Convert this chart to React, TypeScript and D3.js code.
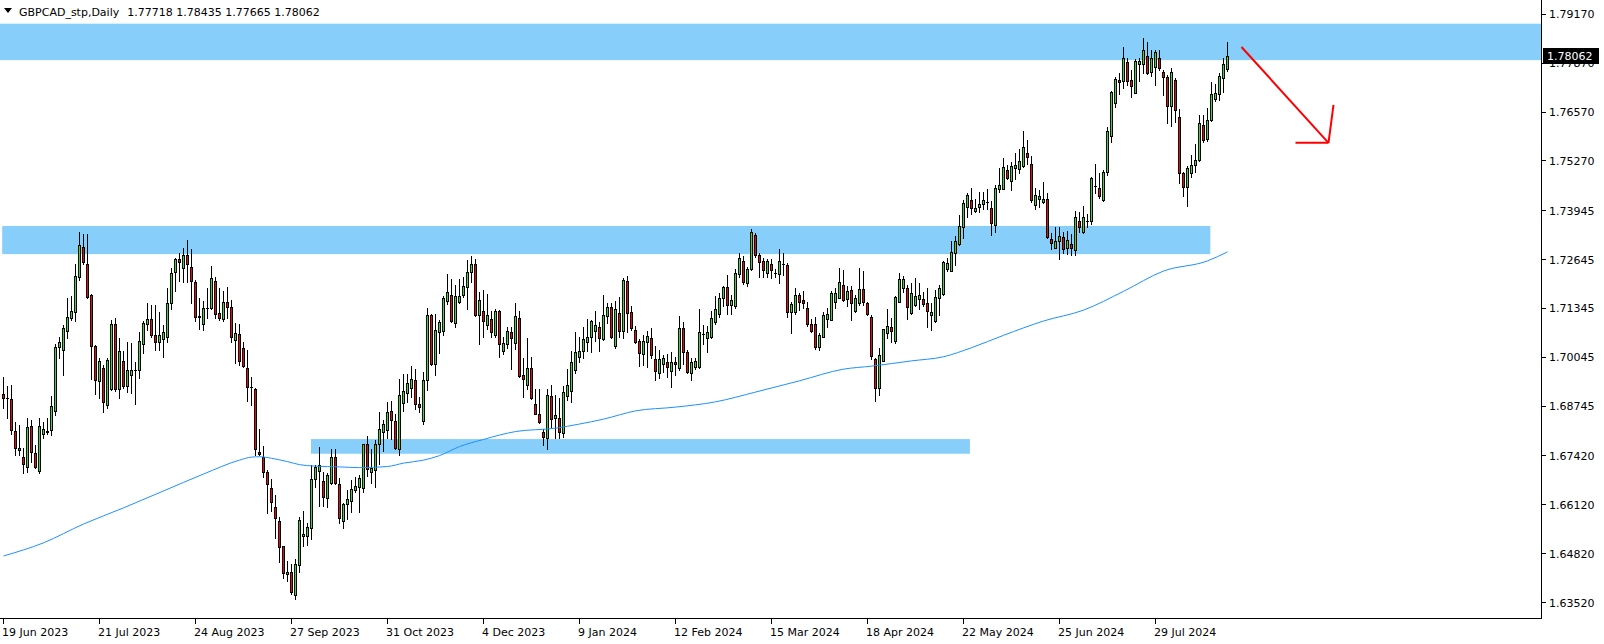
import React from "react";
import * as d3 from "d3";

// Daily GBPCAD candles, [open, high, low, close], one per trading day from 19 Jun 2023
const ohlc: [number, number, number, number][] = [
  [1.6906, 1.6953, 1.6870, 1.6895], [1.6895, 1.6929, 1.6844, 1.6895], [1.6894, 1.6931, 1.6800, 1.6810], [1.6808, 1.6833, 1.6745, 1.6764],
  [1.6757, 1.6824, 1.6745, 1.6762], [1.6738, 1.6762, 1.6698, 1.6721], [1.6714, 1.6842, 1.6700, 1.6819], [1.6821, 1.6838, 1.6727, 1.6753],
  [1.6749, 1.6771, 1.6709, 1.6714], [1.6703, 1.6842, 1.6696, 1.6821], [1.6800, 1.6833, 1.6791, 1.6815], [1.6805, 1.6842, 1.6800, 1.6808],
  [1.6810, 1.6901, 1.6798, 1.6874], [1.6862, 1.7039, 1.6851, 1.7031], [1.7031, 1.7059, 1.7004, 1.7044], [1.7023, 1.7090, 1.6957, 1.7082],
  [1.7075, 1.7163, 1.7057, 1.7111], [1.7110, 1.7167, 1.7104, 1.7128], [1.7124, 1.7252, 1.7101, 1.7220], [1.7217, 1.7339, 1.7210, 1.7302],
  [1.7298, 1.7332, 1.7252, 1.7257], [1.7253, 1.7332, 1.7161, 1.7166], [1.7170, 1.7172, 1.6948, 1.7034], [1.7034, 1.7037, 1.6906, 1.6945],
  [1.6941, 1.7004, 1.6897, 1.6996], [1.6975, 1.6984, 1.6860, 1.6886], [1.6877, 1.7002, 1.6870, 1.6997], [1.6921, 1.7104, 1.6917, 1.7092],
  [1.7092, 1.7110, 1.6916, 1.6920], [1.6921, 1.7055, 1.6897, 1.7020], [1.6995, 1.7021, 1.6922, 1.6929], [1.6929, 1.7046, 1.6911, 1.6971],
  [1.6957, 1.7042, 1.6909, 1.6971], [1.6971, 1.6993, 1.6879, 1.6971], [1.6970, 1.7073, 1.6950, 1.7048], [1.7039, 1.7101, 1.7015, 1.7095],
  [1.7092, 1.7148, 1.7077, 1.7106], [1.7106, 1.7144, 1.7059, 1.7064], [1.7064, 1.7144, 1.7024, 1.7046], [1.7046, 1.7124, 1.7024, 1.7064],
  [1.7053, 1.7090, 1.7006, 1.7071], [1.7058, 1.7188, 1.7046, 1.7148], [1.7148, 1.7241, 1.7133, 1.7228], [1.7231, 1.7268, 1.7181, 1.7266],
  [1.7266, 1.7281, 1.7207, 1.7257], [1.7241, 1.7296, 1.7206, 1.7278], [1.7277, 1.7317, 1.7204, 1.7254], [1.7244, 1.7293, 1.7148, 1.7208],
  [1.7204, 1.7210, 1.7101, 1.7113], [1.7114, 1.7161, 1.7080, 1.7111], [1.7093, 1.7154, 1.7077, 1.7137], [1.7135, 1.7188, 1.7110, 1.7137],
  [1.7135, 1.7248, 1.7133, 1.7215], [1.7207, 1.7218, 1.7108, 1.7121], [1.7122, 1.7190, 1.7105, 1.7108], [1.7106, 1.7181, 1.7101, 1.7152],
  [1.7152, 1.7192, 1.7108, 1.7139], [1.7139, 1.7157, 1.7044, 1.7058], [1.7050, 1.7095, 1.6990, 1.7068], [1.7066, 1.7092, 1.6984, 1.6996],
  [1.7030, 1.7046, 1.6978, 1.6982], [1.6975, 1.7024, 1.6887, 1.6926], [1.6925, 1.6951, 1.6878, 1.6925], [1.6919, 1.6922, 1.6745, 1.6761],
  [1.6753, 1.6813, 1.6745, 1.6747], [1.6738, 1.6769, 1.6687, 1.6700], [1.6700, 1.6705, 1.6591, 1.6667], [1.6658, 1.6680, 1.6596, 1.6619],
  [1.6605, 1.6637, 1.6524, 1.6578], [1.6569, 1.6580, 1.6461, 1.6501], [1.6502, 1.6503, 1.6418, 1.6431], [1.6428, 1.6463, 1.6410, 1.6434],
  [1.6434, 1.6456, 1.6375, 1.6380], [1.6373, 1.6467, 1.6361, 1.6454], [1.6453, 1.6579, 1.6434, 1.6573], [1.6530, 1.6596, 1.6503, 1.6534],
  [1.6530, 1.6563, 1.6505, 1.6554], [1.6551, 1.6718, 1.6520, 1.6680], [1.6680, 1.6718, 1.6660, 1.6712], [1.6701, 1.6767, 1.6609, 1.6717],
  [1.6676, 1.6700, 1.6609, 1.6632], [1.6629, 1.6698, 1.6605, 1.6691], [1.6671, 1.6760, 1.6667, 1.6738], [1.6738, 1.6760, 1.6667, 1.6669],
  [1.6667, 1.6683, 1.6565, 1.6578], [1.6570, 1.6618, 1.6551, 1.6613], [1.6614, 1.6651, 1.6575, 1.6628], [1.6621, 1.6678, 1.6594, 1.6653],
  [1.6651, 1.6687, 1.6645, 1.6662], [1.6660, 1.6691, 1.6594, 1.6683], [1.6658, 1.6774, 1.6647, 1.6773], [1.6773, 1.6796, 1.6690, 1.6707],
  [1.6700, 1.6760, 1.6670, 1.6709], [1.6706, 1.6784, 1.6660, 1.6775], [1.6774, 1.6860, 1.6722, 1.6815], [1.6805, 1.6837, 1.6755, 1.6826],
  [1.6812, 1.6886, 1.6789, 1.6860], [1.6862, 1.6888, 1.6787, 1.6837], [1.6835, 1.6853, 1.6760, 1.6764], [1.6760, 1.6947, 1.6745, 1.6903],
  [1.6883, 1.6959, 1.6862, 1.6915], [1.6910, 1.6959, 1.6886, 1.6936], [1.6924, 1.6981, 1.6900, 1.6946], [1.6944, 1.6973, 1.6867, 1.6879],
  [1.6879, 1.6900, 1.6858, 1.6873], [1.6836, 1.6966, 1.6828, 1.6943], [1.6943, 1.7135, 1.6918, 1.7117], [1.7117, 1.7121, 1.6984, 1.6988],
  [1.6988, 1.7121, 1.6958, 1.7076], [1.7073, 1.7104, 1.7017, 1.7098], [1.7075, 1.7168, 1.7064, 1.7161], [1.7155, 1.7226, 1.7146, 1.7179],
  [1.7170, 1.7213, 1.7098, 1.7100], [1.7097, 1.7197, 1.7086, 1.7167], [1.7152, 1.7213, 1.7148, 1.7167], [1.7171, 1.7219, 1.7166, 1.7194],
  [1.7192, 1.7263, 1.7133, 1.7231], [1.7231, 1.7275, 1.7206, 1.7252], [1.7252, 1.7266, 1.7115, 1.7117], [1.7117, 1.7179, 1.7041, 1.7156],
  [1.7129, 1.7184, 1.7059, 1.7102], [1.7091, 1.7173, 1.7081, 1.7116], [1.7106, 1.7128, 1.7059, 1.7073], [1.7065, 1.7132, 1.7058, 1.7128],
  [1.7128, 1.7130, 1.7006, 1.7041], [1.7020, 1.7058, 1.7013, 1.7042], [1.7041, 1.7084, 1.7030, 1.7075], [1.7071, 1.7084, 1.6973, 1.7057],
  [1.7043, 1.7150, 1.7027, 1.7114], [1.7108, 1.7128, 1.6953, 1.6955], [1.6957, 1.7004, 1.6900, 1.6948], [1.6931, 1.7056, 1.6921, 1.6975],
  [1.6975, 1.7006, 1.6894, 1.6897], [1.6879, 1.6919, 1.6855, 1.6855], [1.6855, 1.6919, 1.6829, 1.6833], [1.6805, 1.6815, 1.6771, 1.6792],
  [1.6791, 1.6919, 1.6761, 1.6903], [1.6902, 1.6931, 1.6820, 1.6841], [1.6844, 1.6903, 1.6789, 1.6850], [1.6842, 1.6896, 1.6789, 1.6806],
  [1.6804, 1.6928, 1.6793, 1.6911], [1.6902, 1.6973, 1.6891, 1.6931], [1.6916, 1.7022, 1.6886, 1.6991], [1.6972, 1.7071, 1.6964, 1.7019],
  [1.7006, 1.7058, 1.6992, 1.7021], [1.7020, 1.7086, 1.7004, 1.7053], [1.7046, 1.7106, 1.7020, 1.7059], [1.7059, 1.7105, 1.7019, 1.7101],
  [1.7075, 1.7128, 1.7048, 1.7090], [1.7086, 1.7099, 1.7020, 1.7055], [1.7052, 1.7169, 1.7051, 1.7116], [1.7115, 1.7148, 1.7095, 1.7138],
  [1.7138, 1.7148, 1.7055, 1.7059], [1.7035, 1.7153, 1.7028, 1.7132], [1.7122, 1.7165, 1.7059, 1.7075], [1.7075, 1.7215, 1.7057, 1.7210],
  [1.7208, 1.7222, 1.7073, 1.7123], [1.7124, 1.7141, 1.7077, 1.7082], [1.7076, 1.7089, 1.7042, 1.7046], [1.7048, 1.7053, 1.6981, 1.7015],
  [1.7014, 1.7064, 1.6984, 1.7047], [1.7046, 1.7075, 1.6978, 1.7061], [1.7055, 1.7083, 1.7002, 1.7010], [1.7000, 1.7035, 1.6944, 1.6969],
  [1.6964, 1.7024, 1.6949, 1.6999], [1.6988, 1.7011, 1.6966, 1.7002], [1.6991, 1.7013, 1.6953, 1.6980], [1.6968, 1.7019, 1.6926, 1.6993],
  [1.6993, 1.7006, 1.6957, 1.6986], [1.6977, 1.7114, 1.6971, 1.7082], [1.7082, 1.7099, 1.6988, 1.7018], [1.7018, 1.7024, 1.6963, 1.6966],
  [1.6962, 1.7004, 1.6944, 1.6991], [1.6979, 1.7002, 1.6974, 1.6995], [1.6980, 1.7133, 1.6975, 1.7071], [1.7067, 1.7090, 1.7039, 1.7067],
  [1.7057, 1.7089, 1.7019, 1.7072], [1.7058, 1.7129, 1.7057, 1.7108], [1.7098, 1.7167, 1.7092, 1.7133], [1.7119, 1.7176, 1.7113, 1.7161],
  [1.7161, 1.7195, 1.7141, 1.7191], [1.7191, 1.7223, 1.7121, 1.7143], [1.7143, 1.7170, 1.7121, 1.7157], [1.7141, 1.7239, 1.7137, 1.7228],
  [1.7225, 1.7283, 1.7219, 1.7268], [1.7260, 1.7274, 1.7200, 1.7206], [1.7203, 1.7246, 1.7194, 1.7239], [1.7239, 1.7345, 1.7237, 1.7337],
  [1.7330, 1.7334, 1.7272, 1.7276], [1.7277, 1.7283, 1.7219, 1.7259], [1.7260, 1.7268, 1.7219, 1.7237], [1.7230, 1.7265, 1.7219, 1.7260],
  [1.7254, 1.7266, 1.7215, 1.7237], [1.7228, 1.7239, 1.7219, 1.7228], [1.7225, 1.7292, 1.7201, 1.7260], [1.7253, 1.7283, 1.7223, 1.7253],
  [1.7250, 1.7256, 1.7113, 1.7126], [1.7126, 1.7152, 1.7070, 1.7146], [1.7126, 1.7188, 1.7119, 1.7169], [1.7169, 1.7175, 1.7131, 1.7152],
  [1.7157, 1.7181, 1.7137, 1.7150], [1.7135, 1.7152, 1.7089, 1.7094], [1.7093, 1.7106, 1.7072, 1.7075], [1.7093, 1.7111, 1.7027, 1.7033],
  [1.7033, 1.7070, 1.7024, 1.7063], [1.7059, 1.7126, 1.7058, 1.7117], [1.7106, 1.7137, 1.7086, 1.7121], [1.7105, 1.7182, 1.7105, 1.7175],
  [1.7152, 1.7188, 1.7135, 1.7175], [1.7163, 1.7241, 1.7161, 1.7205], [1.7196, 1.7237, 1.7154, 1.7157], [1.7160, 1.7194, 1.7142, 1.7182],
  [1.7183, 1.7194, 1.7105, 1.7148], [1.7129, 1.7170, 1.7124, 1.7161], [1.7148, 1.7241, 1.7143, 1.7185], [1.7185, 1.7234, 1.7143, 1.7152],
  [1.7148, 1.7151, 1.7117, 1.7121], [1.7113, 1.7117, 1.7001, 1.7009], [1.7001, 1.7003, 1.6889, 1.6922], [1.6922, 1.7028, 1.6904, 1.7011],
  [1.6996, 1.7081, 1.6996, 1.7081], [1.7068, 1.7133, 1.7055, 1.7089], [1.7084, 1.7108, 1.7046, 1.7075], [1.7049, 1.7168, 1.7042, 1.7165],
  [1.7152, 1.7230, 1.7152, 1.7212], [1.7190, 1.7221, 1.7179, 1.7212], [1.7188, 1.7197, 1.7106, 1.7139], [1.7123, 1.7201, 1.7119, 1.7176],
  [1.7145, 1.7215, 1.7142, 1.7167], [1.7160, 1.7201, 1.7132, 1.7170], [1.7160, 1.7179, 1.7142, 1.7147], [1.7148, 1.7188, 1.7086, 1.7128],
  [1.7117, 1.7148, 1.7077, 1.7124], [1.7102, 1.7183, 1.7099, 1.7164], [1.7163, 1.7197, 1.7117, 1.7188], [1.7173, 1.7261, 1.7170, 1.7257],
  [1.7240, 1.7270, 1.7234, 1.7255], [1.7234, 1.7313, 1.7234, 1.7285], [1.7281, 1.7327, 1.7250, 1.7313], [1.7305, 1.7383, 1.7303, 1.7354],
  [1.7352, 1.7423, 1.7321, 1.7416], [1.7404, 1.7441, 1.7379, 1.7436], [1.7422, 1.7454, 1.7386, 1.7403], [1.7395, 1.7425, 1.7391, 1.7403],
  [1.7405, 1.7443, 1.7391, 1.7413], [1.7413, 1.7443, 1.7400, 1.7422], [1.7418, 1.7452, 1.7400, 1.7418], [1.7403, 1.7420, 1.7330, 1.7362],
  [1.7356, 1.7464, 1.7339, 1.7454], [1.7451, 1.7507, 1.7443, 1.7462], [1.7453, 1.7534, 1.7452, 1.7511], [1.7504, 1.7516, 1.7479, 1.7482],
  [1.7474, 1.7524, 1.7449, 1.7513], [1.7509, 1.7547, 1.7479, 1.7516], [1.7506, 1.7560, 1.7496, 1.7527], [1.7514, 1.7606, 1.7512, 1.7564],
  [1.7548, 1.7582, 1.7520, 1.7537], [1.7519, 1.7540, 1.7417, 1.7424], [1.7410, 1.7454, 1.7400, 1.7436], [1.7426, 1.7449, 1.7405, 1.7433],
  [1.7417, 1.7471, 1.7414, 1.7426], [1.7426, 1.7442, 1.7321, 1.7324], [1.7319, 1.7334, 1.7292, 1.7308], [1.7296, 1.7351, 1.7294, 1.7315],
  [1.7315, 1.7351, 1.7265, 1.7326], [1.7324, 1.7337, 1.7281, 1.7292], [1.7294, 1.7340, 1.7280, 1.7316], [1.7305, 1.7332, 1.7278, 1.7296],
  [1.7289, 1.7394, 1.7278, 1.7378], [1.7367, 1.7391, 1.7337, 1.7350], [1.7337, 1.7407, 1.7334, 1.7378], [1.7367, 1.7387, 1.7352, 1.7367],
  [1.7367, 1.7485, 1.7360, 1.7482], [1.7460, 1.7519, 1.7441, 1.7460], [1.7454, 1.7494, 1.7427, 1.7434], [1.7423, 1.7502, 1.7421, 1.7498],
  [1.7498, 1.7616, 1.7489, 1.7606], [1.7593, 1.7714, 1.7578, 1.7710], [1.7682, 1.7749, 1.7671, 1.7744], [1.7741, 1.7760, 1.7705, 1.7738],
  [1.7740, 1.7831, 1.7720, 1.7800], [1.7789, 1.7800, 1.7729, 1.7739], [1.7742, 1.7769, 1.7696, 1.7727], [1.7708, 1.7797, 1.7708, 1.7794],
  [1.7784, 1.7801, 1.7740, 1.7792], [1.7784, 1.7853, 1.7762, 1.7821], [1.7806, 1.7844, 1.7758, 1.7762], [1.7764, 1.7822, 1.7753, 1.7800],
  [1.7778, 1.7822, 1.7729, 1.7816], [1.7802, 1.7822, 1.7769, 1.7775], [1.7763, 1.7769, 1.7702, 1.7749], [1.7750, 1.7755, 1.7629, 1.7672],
  [1.7672, 1.7775, 1.7621, 1.7763], [1.7742, 1.7747, 1.7631, 1.7662], [1.7643, 1.7664, 1.7469, 1.7494], [1.7494, 1.7498, 1.7434, 1.7458],
  [1.7458, 1.7514, 1.7408, 1.7507], [1.7494, 1.7542, 1.7483, 1.7516], [1.7517, 1.7571, 1.7498, 1.7529], [1.7529, 1.7649, 1.7528, 1.7627],
  [1.7622, 1.7649, 1.7578, 1.7582], [1.7584, 1.7667, 1.7581, 1.7637], [1.7636, 1.7736, 1.7634, 1.7705], [1.7691, 1.7731, 1.7686, 1.7708],
  [1.7705, 1.7760, 1.7689, 1.7753], [1.7747, 1.7800, 1.7711, 1.7785], [1.77718, 1.78435, 1.77665, 1.78062],
];

// 200-period moving average, read at these bars
const maBars = [0, 10, 20, 30, 40, 50, 59, 62, 64, 67, 71, 74, 78, 84, 89, 96, 100, 105, 109, 114, 120, 128, 138, 144, 150, 158, 168, 178, 188, 199, 210, 217, 227, 235, 242, 250, 260, 270, 280, 290, 301, 306];
const maValues = [1.6476, 1.6511, 1.6561, 1.6604, 1.6649, 1.6694, 1.6731, 1.6739, 1.6740, 1.6736, 1.6727, 1.6719, 1.6715, 1.6713, 1.6711, 1.6714, 1.6723, 1.6731, 1.6743, 1.6767, 1.6786, 1.6807, 1.6816, 1.6827, 1.6840, 1.6862, 1.6872, 1.6886, 1.6912, 1.6942, 1.6973, 1.6981, 1.6995, 1.7006, 1.7030, 1.7063, 1.7101, 1.7130, 1.7180, 1.7234, 1.7261, 1.7285];

// Supply / demand zones (bar range, price range)
const zoneStartBar = [-5, -0.2, 77];
const zoneEndBar = [500, 301.7, 241.6];
const zoneTop = [1.7892, 1.7354, 1.6787];
const zoneBottom = [1.7795, 1.7279, 1.6748];

// Red arrow drawn on chart (bar, price)
const arrowBars = [309.5, 331.25];
const arrowPrices = [1.7830, 1.7575];
const arrowHeadBars = [323, 332.5];
const arrowHeadPrices = [1.7575, 1.7676];

const priceTicks = [1.7917, 1.7787, 1.7657, 1.7527, 1.73945, 1.72645, 1.71345, 1.70045, 1.68745, 1.6742, 1.6612, 1.6482, 1.6352];
const priceTickLabels = ["1.79170", "1.77870", "1.76570", "1.75270", "1.73945", "1.72645", "1.71345", "1.70045", "1.68745", "1.67420", "1.66120", "1.64820", "1.63520"];
const dateTickBars = [0, 24, 48, 72, 96, 120, 144, 168, 192, 216, 240, 264, 288];
const dateTickLabels = ["19 Jun 2023", "21 Jul 2023", "24 Aug 2023", "27 Sep 2023", "31 Oct 2023", "4 Dec 2023", "9 Jan 2024", "12 Feb 2024", "15 Mar 2024", "18 Apr 2024", "22 May 2024", "25 Jun 2024", "29 Jul 2024"];

const symbolTitle = "GBPCAD_stp,Daily";
const lastBarText = "1.77718 1.78435 1.77665 1.78062";
const lastPrice = 1.78062;

export default function App() {
  const W = 1604;
  const H = 644;
  const plotRight = 1541;
  const plotBottom = 618;
  const x = d3.scaleLinear().domain([0, 1]).range([3.5, 7.5]);
  const y = d3.scaleLinear().domain([1.6352, 1.7917]).range([602.6, 14.3]);
  const snap = (v: number) => Math.round(v - 0.5) + 0.5;

  const maLine = d3
    .line<number>()
    .x((_, i) => x(maBars[i]))
    .y((d) => y(d))
    .curve(d3.curveMonotoneX)(maValues);

  const font = "'DejaVu Sans', Tahoma, sans-serif";

  return (
    <div style={{ position: "absolute", left: 0, top: 0 }}>
      <svg width={W} height={H} style={{ display: "block", background: "#fff" }} fontFamily={font} fontSize={11}>
        <defs>
          <clipPath id="plotClip">
            <rect x={0} y={0} width={plotRight} height={plotBottom} />
          </clipPath>
        </defs>
        <rect x={0} y={0} width={W} height={H} fill="#fff" />
        <g clipPath="url(#plotClip)">
          {zoneTop.map((t, i) => {
            const x0 = Math.max(0, x(zoneStartBar[i]) - 0.5);
            const x1 = Math.min(plotRight, x(zoneEndBar[i]));
            return (
              <rect key={"z" + i} x={x0} y={y(t)} width={x1 - x0} height={y(zoneBottom[i]) - y(t)} fill="#87cefa" />
            );
          })}
          {ohlc.map((d, i) => {
            const [o, h, l, c] = d;
            const cx = x(i);
            const yo = Math.round(y(o));
            const yc = Math.round(y(c));
            const top = Math.min(yo, yc);
            const bot = Math.max(yo, yc);
            const bull = c >= o;
            return (
              <g key={"c" + i}>
                <line x1={cx} x2={cx} y1={Math.round(y(h))} y2={Math.round(y(l)) + 1} stroke="#000" strokeWidth={1} shapeRendering="crispEdges" />
                {bot - top < 1 ? (
                  <line x1={cx - 1.5} x2={cx + 1.5} y1={top + 0.5} y2={top + 0.5} stroke="#000" strokeWidth={1} shapeRendering="crispEdges" />
                ) : (
                  <rect
                    x={cx - 1}
                    y={top + 0.5}
                    width={2}
                    height={bot - top}
                    fill={bull ? "#00ff00" : "#ff0000"}
                    stroke="#000"
                    strokeWidth={1}
                    shapeRendering="crispEdges"
                  />
                )}
              </g>
            );
          })}
          <path d={maLine || ""} fill="none" stroke="#1e90ff" strokeWidth={1} />
          <line
            x1={x(arrowBars[0])}
            y1={y(arrowPrices[0])}
            x2={x(arrowBars[1])}
            y2={y(arrowPrices[1])}
            stroke="#ff0000"
            strokeWidth={2}
          />
          {arrowHeadBars.map((b, i) => (
            <line
              key={"ah" + i}
              x1={x(arrowBars[1])}
              y1={y(arrowPrices[1])}
              x2={x(b)}
              y2={y(arrowHeadPrices[i])}
              stroke="#ff0000"
              strokeWidth={2}
            />
          ))}
        </g>

        {/* axes */}
        <line x1={snap(plotRight)} x2={snap(plotRight)} y1={0} y2={plotBottom + 1} stroke="#000" strokeWidth={1} />
        <line x1={0} x2={plotRight + 1} y1={snap(plotBottom)} y2={snap(plotBottom)} stroke="#000" strokeWidth={1} />
        {priceTicks.map((p, i) => (
          <g key={"pt" + i}>
            <line x1={plotRight + 1} x2={plotRight + 5} y1={snap(y(p))} y2={snap(y(p))} stroke="#000" strokeWidth={1} />
            <text x={plotRight + 8} y={y(p)} dy="0.36em" fill="#000">
              {priceTickLabels[i]}
            </text>
          </g>
        ))}
        <g>
          <rect x={plotRight + 2} y={Math.round(y(lastPrice)) - 8} width={56} height={16} fill="#000" />
          <text x={plotRight + 6} y={y(lastPrice)} dy="0.36em" fill="#fff">
            {lastPrice.toFixed(5)}
          </text>
        </g>
        {dateTickBars.map((b, i) => (
          <g key={"dt" + i}>
            <line x1={x(b)} x2={x(b)} y1={plotBottom + 1} y2={plotBottom + 6} stroke="#000" strokeWidth={1} />
            <text x={x(b) - 1.5} y={plotBottom + 18} fill="#000">
              {dateTickLabels[i]}
            </text>
          </g>
        ))}

        {/* header */}
        <path d="M4,8 L12,8 L8,13 Z" fill="#000" />
        <text x={19} y={16} fill="#000">
          {symbolTitle}
          <tspan dx={8}>{lastBarText}</tspan>
        </text>
      </svg>
    </div>
  );
}
